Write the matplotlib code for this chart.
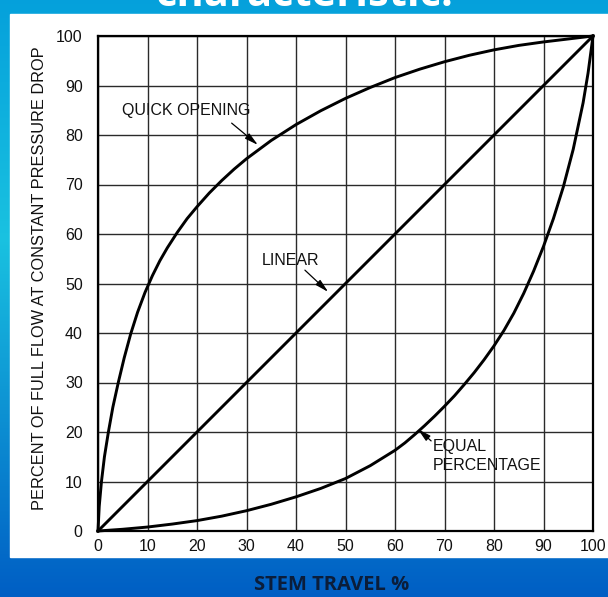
import numpy as np
import matplotlib.pyplot as plt
from matplotlib.patches import Rectangle

# valores (percurso da haste % -> vazao %)
quick_x = [0, 0.25, 0.7, 1.3, 2.1, 3.0, 4.1, 5.3, 6.6, 8.0, 9.5, 11, 12.5, 14, 16, 18, 20, 22.5, 25,
           27.5, 30, 35, 40, 45, 50, 55, 60, 65, 70, 75, 80, 85, 90, 95, 100]
quick_y = [0, 5, 10, 15, 20, 25, 30, 35, 39.8, 44.2, 48.2, 51.6, 54.6, 57.2, 60.3, 63.1, 65.5, 68.3, 70.8,
           73.1, 75.2, 78.9, 82.1, 84.9, 87.4, 89.6, 91.6, 93.3, 94.8, 96.1, 97.2, 98.1, 98.8, 99.4, 100]

linear_x = [0, 100]
linear_y = [0, 100]

equal_x = [0, 5, 10, 15, 20, 25, 30, 35, 40, 45, 50, 55, 60, 62, 64, 66, 68, 70, 72, 74, 76, 78, 80,
           82, 84, 86, 88, 90, 92, 94, 96, 98, 99, 100]
equal_y = [0, 0.35, 0.8, 1.4, 2.1, 3, 4.1, 5.4, 6.9, 8.6, 10.6, 13.2, 16.3, 17.8, 19.5, 21.3, 23.2, 25.2,
           27.3, 29.6, 32.0, 34.6, 37.4, 40.5, 44.0, 48.0, 52.5, 57.5, 63.1, 69.5, 77.1, 86.5, 92.5, 100]

ticks = list(range(0, 101, 10))

fig = plt.figure(figsize=(6.08, 5.97), dpi=100)

# fundo azul em degrade
bg = fig.add_axes([0, 0, 1, 1], zorder=-2)
pos = np.linspace(0, 1, 300)
stops = [0, 0.4, 1]
cols = np.array([[0.02, 0.63, 0.86], [0.1, 0.76, 0.88], [0.0, 0.37, 0.77]])
img = np.stack([np.interp(pos, stops, cols[:, k]) for k in range(3)], axis=-1)[:, None, :]
bg.imshow(img, aspect='auto', extent=[0, 1, 0, 1], origin='upper')
bg.set_xlim(0, 1)
bg.set_ylim(0, 1)
bg.axis('off')
# painel branco
bg.add_patch(Rectangle((10 / 608, 1 - 557 / 597), 1, (557 - 14) / 597, color='white', zorder=2))

fig.text(0.5, 1 - 6 / 597, "characteristic:", color='white', fontsize=30, fontweight='bold',
         family='Open Sans', ha='center', va='baseline')

ax = fig.add_axes([98 / 608, 66 / 597, 495 / 608, 495 / 597])
ax.set_xlim(0, 100)
ax.set_ylim(0, 100)
ax.set_xticks(ticks)
ax.set_yticks(ticks)
ax.grid(True, color='#2a2a2a', linewidth=1.0)
ax.tick_params(length=0, labelsize=11.5, colors='#111111')
ax.tick_params(axis='y', pad=11)
ax.tick_params(axis='x', pad=6)
for lab in ax.get_xticklabels() + ax.get_yticklabels():
    lab.set_family('Liberation Sans')
for s in ax.spines.values():
    s.set_linewidth(1.6)
    s.set_color('black')
ax.set_facecolor('white')

ax.plot(quick_x, quick_y, color='black', lw=2.1, solid_joinstyle='round', clip_on=False)
ax.plot(linear_x, linear_y, color='black', lw=2.1, clip_on=False)
ax.plot(equal_x, equal_y, color='black', lw=2.1, solid_joinstyle='round', clip_on=False)

arrow = dict(arrowstyle='-|>,head_length=0.8,head_width=0.2', color='black', lw=0.9, shrinkA=0, shrinkB=0)
txt = dict(fontsize=11.5, family='Liberation Sans', color='#111111', va='center')
ax.annotate('', xy=(32.3, 78), xytext=(27, 82.4), arrowprops=arrow)
ax.text(4.8, 85, 'QUICK OPENING', **txt)
ax.annotate('', xy=(46.5, 48.3), xytext=(41.8, 52.7), arrowprops=arrow)
ax.text(33.1, 54.7, 'LINEAR', **txt)
ax.annotate('', xy=(64.6, 20.6), xytext=(67.3, 18.2), arrowprops=arrow)
ax.text(67.7, 15.2, 'EQUAL\nPERCENTAGE', linespacing=1.35, **txt)

fig.text(40 / 608, 1 - 278 / 597, 'PERCENT OF FULL FLOW AT CONSTANT PRESSURE DROP', rotation=90,
         fontsize=11.8, family='Liberation Sans', color='#111111', ha='center', va='center')
fig.text(332 / 608, 1 - 585 / 597, 'STEM TRAVEL %', fontsize=14.5, fontweight='bold', family='Open Sans',
         color='#0b1d3a', ha='center', va='center')

fig.savefig('out.png', dpi=100)
